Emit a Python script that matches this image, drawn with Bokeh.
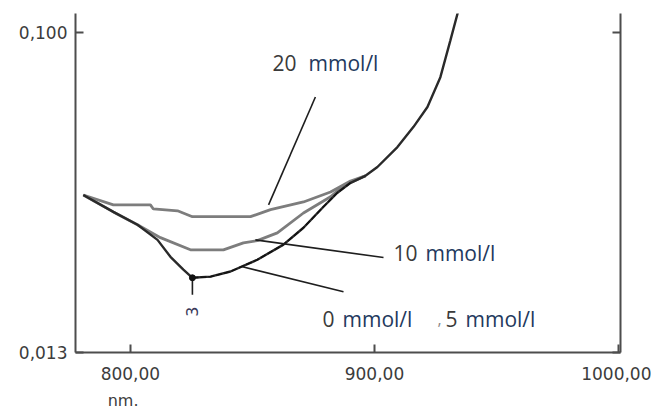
from bokeh.plotting import figure
from bokeh.models import Range1d, LinearAxis, FixedTicker
from bokeh.core.properties import value
from bokeh.embed import file_html
from bokeh.resources import INLINE

# ---- data ----
# wavelength (nm) / absorbance
wl_20 = [780.7, 793.0, 808.2, 809.4, 819.3, 825.4, 849.2, 857.4, 870.9, 882.0, 890.2, 896.3]
ab_20 = [0.0558, 0.0531, 0.0531, 0.0520, 0.0515, 0.0499, 0.0499, 0.0518, 0.0539, 0.0566, 0.0596, 0.0610]

wl_10 = [780.7, 793.0, 802.9, 812.3, 824.6, 838.1, 846.3, 852.0, 860.2, 870.9, 882.0, 887.3, 896.3]
ab_10 = [0.0558, 0.0512, 0.0477, 0.0442, 0.0409, 0.0409, 0.0428, 0.0434, 0.0455, 0.0509, 0.0553, 0.0583, 0.0610]

wl_0 = [780.7, 793.0, 802.9, 811.1, 816.4, 821.7, 825.4, 832.8, 841.0, 852.0, 862.7, 870.9,
        879.1, 884.8, 890.2, 896.3, 901.2, 909.4, 916.0, 921.7, 927.0, 931.1, 934.4]
ab_0 = [0.0558, 0.0512, 0.0477, 0.0436, 0.0390, 0.0355, 0.0333, 0.0336, 0.0350, 0.0382, 0.0423, 0.0469,
        0.0526, 0.0564, 0.0591, 0.0610, 0.0634, 0.0688, 0.0743, 0.0797, 0.0878, 0.0978, 0.1060]

wl_5 = [825.4, 832.8, 841.0, 852.0, 862.7, 870.9, 879.1, 884.8, 890.2]
ab_5 = [0.0333, 0.0336, 0.0350, 0.0382, 0.0423, 0.0469, 0.0526, 0.0564, 0.0591]

x_ticks = [800, 900, 1000]
x_tick_labels = ["800,00", "900,00", "1000,00"]
y_ticks = [0.013, 0.100]
y_tick_labels = ["0,013", "0,100"]
x_unit_pos = [797]
x_unit_label = ["nm."]

# annotation leader lines: (x0, y0, x1, y1)
leaders = [
    (875.8, 0.0824, 856.6, 0.0531),   # 20 mmol/l
    (851.2, 0.0436, 903.7, 0.0388),   # 10 mmol/l
    (845.9, 0.0363, 887.3, 0.0295),   # 0 mmol/l
    (825.4, 0.0328, 825.4, 0.0287),   # marker stub at minimum
]
# annotation texts
ann_num_x = [858.2, 907.8, 878.7, 929.1]
ann_unit_x = [873.0, 920.9, 886.9, 937.3]
ann_y = [0.0916, 0.0401, 0.0222, 0.0222]
ann_num = ["20", "10", "0", "5"]
ann_unit = ["mmol/l", "mmol/l", "mmol/l", "mmol/l"]

# ---- figure ----
p = figure(width=651, height=412, output_backend="svg", toolbar_location=None,
           x_range=Range1d(777.5, 1000.8), y_range=Range1d(0.013, 0.1051),
           min_border_left=75, min_border_right=31, min_border_top=13, min_border_bottom=59,
           x_axis_location=None, y_axis_location=None)
p.outline_line_color = None
p.xgrid.visible = False
p.ygrid.visible = False
p.background_fill_color = "white"

AX = "#4d4d4d"
LBL = "#3c3c3c"

def style_axis(ax):
    ax.axis_line_color = AX
    ax.axis_line_width = 2
    ax.major_tick_line_color = AX
    ax.major_tick_line_width = 2
    ax.major_tick_in = 8
    ax.major_tick_out = 0
    ax.minor_tick_line_color = None
    ax.major_label_text_font = "DejaVu Sans"
    ax.major_label_text_font_size = "17px"
    ax.major_label_text_color = LBL

bottom = LinearAxis(ticker=FixedTicker(ticks=x_ticks),
                    major_label_overrides={t: l for t, l in zip(x_ticks, x_tick_labels)})
style_axis(bottom)
bottom.major_label_standoff = 14
p.add_layout(bottom, "below")

# second (line-less) bottom axis carrying the "nm." unit under the 800 tick
unit_axis = LinearAxis(ticker=FixedTicker(ticks=x_unit_pos),
                       major_label_overrides={t: l for t, l in zip(x_unit_pos, x_unit_label)})
unit_axis.axis_line_color = None
unit_axis.major_tick_line_color = None
unit_axis.minor_tick_line_color = None
unit_axis.major_label_standoff = 2
unit_axis.major_label_text_font = "DejaVu Sans"
unit_axis.major_label_text_font_size = "16px"
unit_axis.major_label_text_color = LBL
p.add_layout(unit_axis, "below")

left = LinearAxis(ticker=FixedTicker(ticks=y_ticks),
                  major_label_overrides={t: l for t, l in zip(y_ticks, y_tick_labels)})
style_axis(left)
left.major_label_standoff = 8
p.add_layout(left, "left")

right = LinearAxis(ticker=FixedTicker(ticks=y_ticks))
style_axis(right)
right.major_label_text_color = None
p.add_layout(right, "right")

# curves
p.line(wl_20, ab_20, line_color="#7d7d7d", line_width=2.8)
p.line(wl_10, ab_10, line_color="#7d7d7d", line_width=2.8)
p.line(wl_0, ab_0, line_color="#2a2a2a", line_width=2.4)
p.line(wl_5, ab_5, line_color="#111111", line_width=1.6, line_dash="6 2")

# leader lines
p.segment(x0=[l[0] for l in leaders], y0=[l[1] for l in leaders],
          x1=[l[2] for l in leaders], y1=[l[3] for l in leaders],
          line_color="#1e1e1e", line_width=1.6)
p.scatter(x=[825.4], y=[0.0333], size=6, marker="circle", color="#111111")

# minimum marker label "3"
p.text(x=[825.4], y=[0.0241], text=["3"], angle=1.5708, text_align="center",
       text_baseline="middle", text_font=value("DejaVu Sans"), text_font_size="16px",
       text_color="#3a3a5a")

# annotation texts
p.text(x=ann_num_x, y=ann_y, text=ann_num, text_align="left", text_baseline="middle",
       text_font=value("Open Sans"), text_font_size="21px", text_color="#3a3a3a")
p.text(x=ann_unit_x, y=ann_y, text=ann_unit, text_align="left", text_baseline="middle",
       text_font=value("Open Sans"), text_font_size="21px", text_color="#23395e")
p.text(x=[925.8], y=[0.0222], text=[","], text_align="left", text_baseline="middle",
       text_font=value("Open Sans"), text_font_size="16px", text_color="#8a8a8a")

open("out.html", "w").write(file_html(p, INLINE))
